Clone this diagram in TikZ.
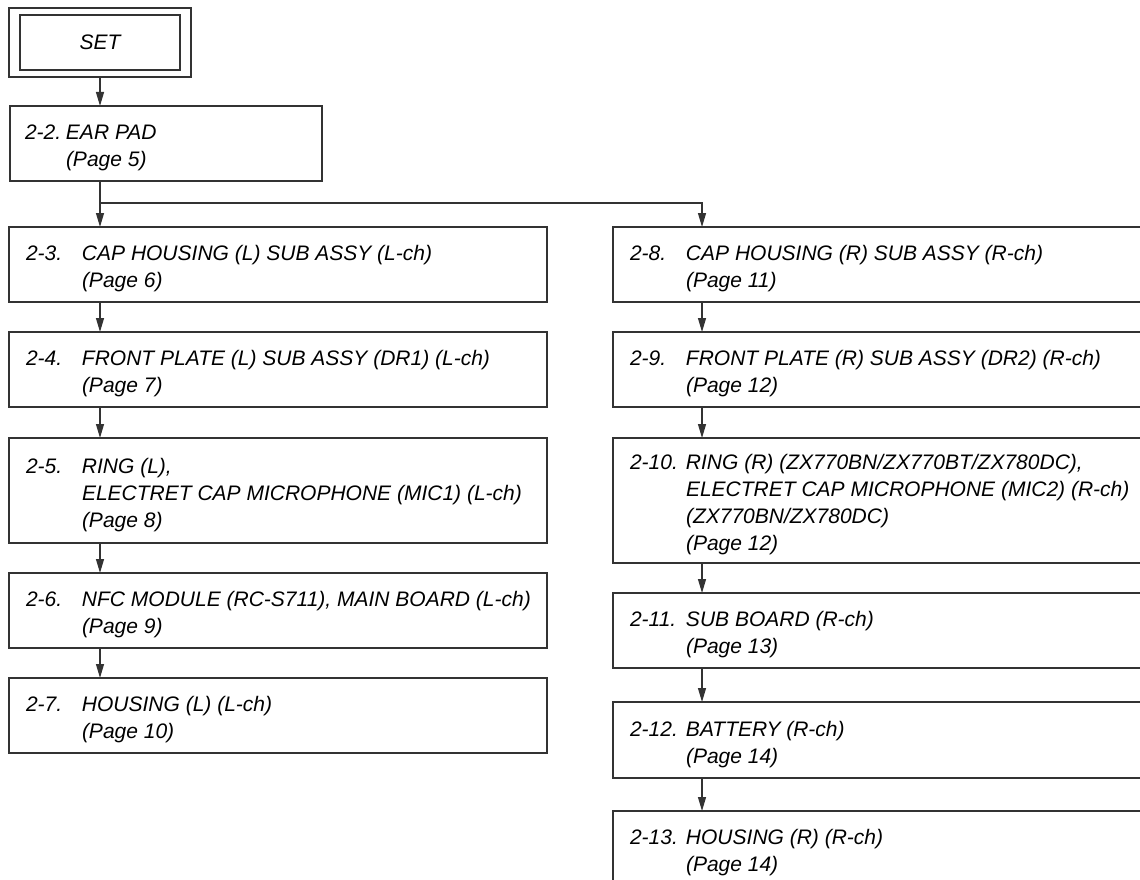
\documentclass[tikz,border=0pt]{standalone}
\usepackage{fontspec}
\setmainfont{Liberation Sans}
\usetikzlibrary{arrows.meta,calc}

% one step of the list: number column, then the lines of the title
\newcommand{\stepitem}[3]{\makebox[#1][l]{\begin{tabular}[t]{@{}p{#2}@{}l@{}}#3\end{tabular}}}

\begin{document}
\begin{tikzpicture}[x=1pt, y=-1pt,
        font=\fontsize{21}{27}\selectfont\itshape,
        box/.style={draw=black!80, line width=1.2pt, anchor=north west, outer sep=0pt,
            inner xsep=17pt, inner ysep=0pt, text height=28pt, minimum height=75pt},
        leftbox/.style={box, minimum width=538pt},
        rightbox/.style={box, minimum width=540pt},
        arrow/.style={draw=black!80, line width=1.2pt, -{Triangle[length=14pt,width=8pt]}}]
        \useasboundingbox (0,0) rectangle (1140,880);

        % Start
        \node[draw=black!80, line width=1.2pt, outer sep=0pt, minimum width=182pt,
            minimum height=69pt, font=\fontsize{21}{24}\selectfont\itshape] (set) at (100,42.5) {SET};
        \draw[black!80, line width=1.2pt] ($(set.north west)+(11,7)$) rectangle ($(set.south east)+(-11,-7)$);

        \node[box, minimum width=312pt, inner xsep=15pt] (s22) at (10,106)
            {\stepitem{282pt}{41pt}{2-2. & EAR PAD\\ & (Page 5)}};

        % Left column (L-ch)
        \node[leftbox] (s23) at (9,227)
            {\stepitem{504pt}{56pt}{2-3. & CAP HOUSING (L) SUB ASSY (L-ch)\\ & (Page 6)}};
        \node[leftbox] (s24) at (9,332)
            {\stepitem{504pt}{56pt}{2-4. & FRONT PLATE (L) SUB ASSY (DR1) (L-ch)\\ & (Page 7)}};
        \node[leftbox, minimum height=105pt] (s25) at (9,438)
            {\stepitem{504pt}{56pt}{2-5. & RING (L),\\ & ELECTRET CAP MICROPHONE (MIC1) (L-ch)\\ & (Page 8)}};
        \node[leftbox] (s26) at (9,573)
            {\stepitem{504pt}{56pt}{2-6. & NFC MODULE (RC-S711), MAIN BOARD (L-ch)\\ & (Page 9)}};
        \node[leftbox] (s27) at (9,678)
            {\stepitem{504pt}{56pt}{2-7. & HOUSING (L) (L-ch)\\ & (Page 10)}};

        % Right column (R-ch)
        \node[rightbox] (s28) at (613,227)
            {\stepitem{506pt}{56pt}{2-8. & CAP HOUSING (R) SUB ASSY (R-ch)\\ & (Page 11)}};
        \node[rightbox] (s29) at (613,332)
            {\stepitem{506pt}{56pt}{2-9. & FRONT PLATE (R) SUB ASSY (DR2) (R-ch)\\ & (Page 12)}};
        \node[rightbox, minimum height=125pt] (s210) at (613,438)
            {\stepitem{506pt}{56pt}{2-10. & RING (R) (ZX770BN/ZX770BT/ZX780DC),\\ & ELECTRET CAP MICROPHONE (MIC2) (R-ch)\\ & (ZX770BN/ZX780DC)\\ & (Page 12)}};
        \node[rightbox] (s211) at (613,593)
            {\stepitem{506pt}{56pt}{2-11. & SUB BOARD (R-ch)\\ & (Page 13)}};
        \node[rightbox, minimum height=76pt] (s212) at (613,702)
            {\stepitem{506pt}{56pt}{2-12. & BATTERY (R-ch)\\ & (Page 14)}};
        \node[rightbox] (s213) at (613,811)
            {\stepitem{506pt}{56pt}{2-13. & HOUSING (R) (R-ch)\\ & (Page 14)}};

        % Arrows
        \coordinate (lx) at (100,0);
        \coordinate (rx) at (702,0);
        \coordinate (split) at (100,203);
        \draw[arrow] (set.south) -- (set.south |- s22.north);
        \draw[arrow] (s22.south -| lx) -- (s23.north -| lx);
        \draw[arrow] (split) -| (s28.north -| rx);
        \draw[arrow] (s23.south -| lx) -- (s24.north -| lx);
        \draw[arrow] (s24.south -| lx) -- (s25.north -| lx);
        \draw[arrow] (s25.south -| lx) -- (s26.north -| lx);
        \draw[arrow] (s26.south -| lx) -- (s27.north -| lx);
        \draw[arrow] (s28.south -| rx) -- (s29.north -| rx);
        \draw[arrow] (s29.south -| rx) -- (s210.north -| rx);
        \draw[arrow] (s210.south -| rx) -- (s211.north -| rx);
        \draw[arrow] (s211.south -| rx) -- (s212.north -| rx);
        \draw[arrow] (s212.south -| rx) -- (s213.north -| rx);
    \end{tikzpicture}
\end{document}
